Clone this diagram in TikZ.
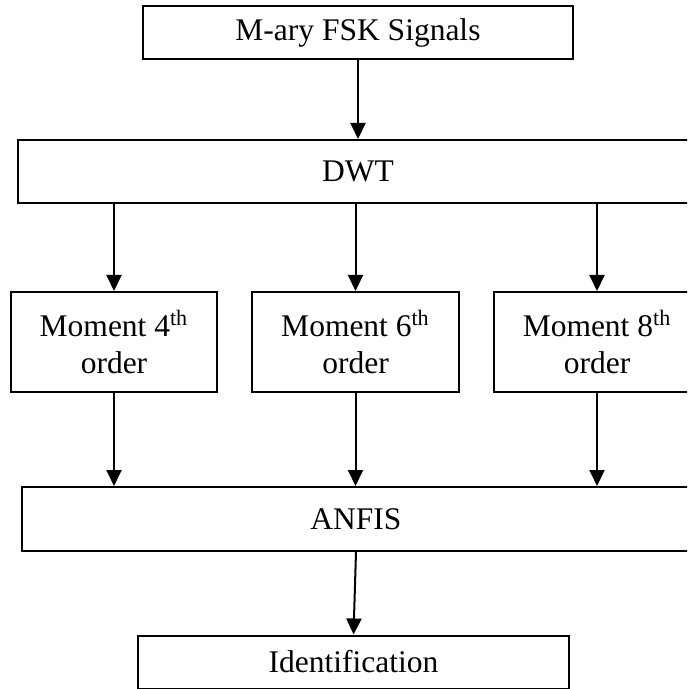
\documentclass[tikz,border=0pt]{standalone}
\usepackage{fontspec}
\setmainfont{Liberation Serif}
\usetikzlibrary{arrows.meta}

\begin{document}
\begin{tikzpicture}[x=0.5pt,y=-0.5pt,
		blk/.style={draw,line width=1pt,inner sep=0pt,align=center,
			font=\fontsize{15.75}{18.5}\selectfont},
		flow/.style={line width=1pt,-{Triangle[length=8pt,width=7.5pt]}}]
			\useasboundingbox (0,0) rectangle (687,689);
			\clip (0,0) rectangle (687,689);
			% blocks, top to bottom
			\draw (358,32.5) node[blk,minimum width=215pt,minimum height=26.5pt] (sig) {M-ary FSK Signals};
			\draw (358,171.5) node[blk,minimum width=340pt,minimum height=31.5pt] (dwt) {DWT};
			\draw (114,342) node[blk,minimum width=103pt,minimum height=50pt] (m4) {Moment 4\textsuperscript{th}\\order};
			\draw (355.5,342) node[blk,minimum width=103.5pt,minimum height=50pt] (m6) {Moment 6\textsuperscript{th}\\order};
			\draw (597,342) node[blk,minimum width=103pt,minimum height=50pt] (m8) {Moment 8\textsuperscript{th}\\order};
			\draw (356,519) node[blk,minimum width=334pt,minimum height=32pt] (anfis) {ANFIS};
			\draw (353.5,662) node[blk,minimum width=215.5pt,minimum height=26.5pt] (ident) {Identification};
			% arrows
			\draw[flow] (sig.south) -- (sig.south |- dwt.north);
			\foreach \m in {m4,m6,m8}{
				\draw[flow] (\m.north |- dwt.south) -- (\m.north);
				\draw[flow] (\m.south) -- (\m.south |- anfis.north);
			}
			\draw[flow] (anfis.south) -- (ident.north);
		\end{tikzpicture}
\end{document}
